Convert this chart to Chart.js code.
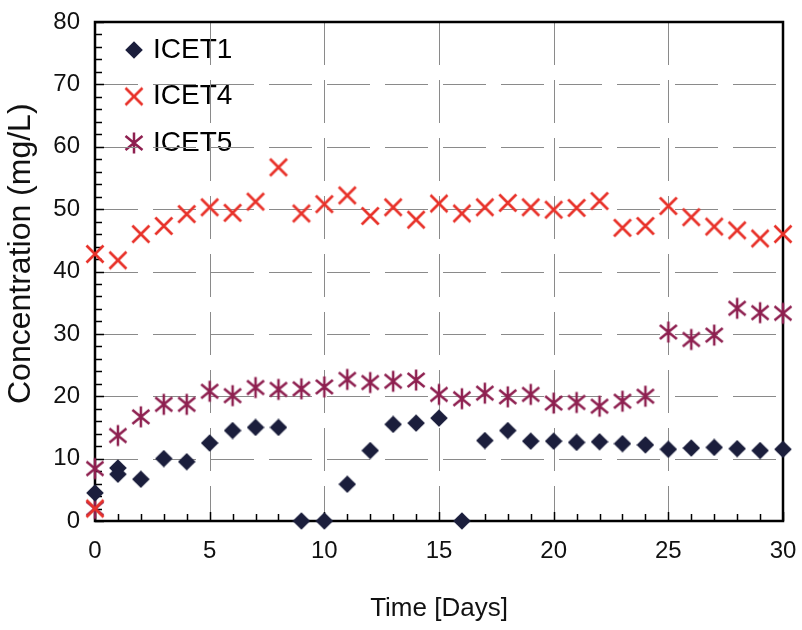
<!DOCTYPE html>
<html><head><meta charset="utf-8">
<script src="https://cdn.jsdelivr.net/npm/chart.js@4.4.1/dist/chart.umd.min.js"></script>
<style>html,body{margin:0;padding:0;background:#fff;}canvas{display:block;}</style>
</head><body>
<canvas id="c" width="802" height="630"></canvas>
<script>
// ---- data ----
const seriesNames = ['ICET1', 'ICET4', 'ICET5'];
const icet1Days = [0, 1, 1, 2, 3, 4, 5, 6, 7, 8, 9, 10, 11, 12, 13, 14, 15, 16, 17, 18, 19, 20, 21, 22, 23, 24, 25, 26, 27, 28, 29, 30];
const icet1Values = [4.5, 8.5, 7.5, 6.7, 10.0, 9.5, 12.5, 14.5, 15.0, 15.0, 0, 0, 5.9, 11.3, 15.5, 15.7, 16.5, 0, 12.9, 14.5, 12.8, 12.8, 12.6, 12.7, 12.4, 12.2, 11.5, 11.7, 11.8, 11.6, 11.3, 11.5];
const icet4Days = [0, 0, 1, 2, 3, 4, 5, 6, 7, 8, 9, 10, 11, 12, 13, 14, 15, 16, 17, 18, 19, 20, 21, 22, 23, 24, 25, 26, 27, 28, 29, 30];
const icet4Values = [42.8, 2.0, 41.8, 46.0, 47.3, 49.2, 50.3, 49.4, 51.2, 56.7, 49.3, 50.8, 52.2, 48.9, 50.3, 48.3, 50.9, 49.3, 50.3, 51.0, 50.3, 49.9, 50.2, 51.3, 47.0, 47.3, 50.5, 48.7, 47.2, 46.6, 45.3, 46.0];
const icet5Days = [0, 0, 1, 2, 3, 4, 5, 6, 7, 8, 9, 10, 11, 12, 13, 14, 15, 16, 17, 18, 19, 20, 21, 22, 23, 24, 25, 26, 27, 28, 29, 30];
const icet5Values = [8.4, 2.0, 13.7, 16.7, 18.7, 18.7, 20.8, 20.1, 21.4, 21.1, 21.2, 21.5, 22.7, 22.2, 22.4, 22.6, 20.3, 19.6, 20.5, 19.9, 20.3, 18.9, 19.0, 18.4, 19.2, 20.0, 30.3, 29.1, 29.8, 34.1, 33.4, 33.3];
const xTitle = 'Time [Days]';
const yTitle = 'Concentration (mg/L)';

// ---- marker images ----
function mk(w, h, draw) { const c = document.createElement('canvas'); c.width = w; c.height = h; draw(c.getContext('2d')); return c; }
const C1 = '#1b1e3c', C4 = '#e8322a', C5 = '#8e2050';
const diamondImg = mk(18, 18, g => { g.fillStyle = C1; g.beginPath(); g.moveTo(9, 0.2); g.lineTo(17.8, 9); g.lineTo(9, 17.8); g.lineTo(0.2, 9); g.closePath(); g.fill(); });
const crossImg = mk(22, 22, g => { g.strokeStyle = C4; g.lineWidth = 2.7; g.beginPath(); g.moveTo(2.5, 2.5); g.lineTo(19.5, 19.5); g.moveTo(19.5, 2.5); g.lineTo(2.5, 19.5); g.stroke(); });
const starImg = mk(22, 24, g => { g.strokeStyle = C5; g.lineWidth = 2.5; g.beginPath(); g.moveTo(11, 1.5); g.lineTo(11, 22.5); g.moveTo(2.5, 5); g.lineTo(19.5, 19); g.moveTo(2.5, 19); g.lineTo(19.5, 5); g.stroke(); });

const pts = (xs, ys) => xs.map((x, i) => ({ x, y: ys[i] }));
const FONT = '"Liberation Sans", Arial, sans-serif';

const framePlugin = {
  id: 'frame',
  beforeDatasetsDraw(chart) {
    const { ctx, chartArea: a, scales: { x, y } } = chart;
    ctx.save();
    // dashed grid at major ticks
    ctx.strokeStyle = '#8a8a8a';
    ctx.lineWidth = 1;
    ctx.setLineDash([43, 15]);
    ctx.beginPath();
    x.ticks.forEach(t => {
      if (t.value <= x.min || t.value >= x.max) return;
      const px = Math.round(x.getPixelForValue(t.value)) + 0.5;
      ctx.moveTo(px, a.top); ctx.lineTo(px, a.bottom);
    });
    y.ticks.forEach(t => {
      if (t.value <= y.min || t.value >= y.max) return;
      const py = Math.round(y.getPixelForValue(t.value)) + 0.5;
      ctx.moveTo(a.left, py); ctx.lineTo(a.right, py);
    });
    ctx.stroke();
    ctx.setLineDash([]);
    // inward minor/major tick marks
    ctx.strokeStyle = '#000';
    ctx.lineWidth = 1.5;
    ctx.beginPath();
    for (let d = x.min; d <= x.max; d++) {
      const px = Math.round(x.getPixelForValue(d)) + 0.5;
      const len = d % 5 === 0 ? 9 : 7;
      ctx.moveTo(px, a.bottom); ctx.lineTo(px, a.bottom - len);
    }
    for (let v = y.min; v <= y.max; v += 2) {
      const py = Math.round(y.getPixelForValue(v)) + 0.5;
      const len = v % 10 === 0 ? 9 : 7;
      ctx.moveTo(a.left, py); ctx.lineTo(a.left + len, py);
    }
    ctx.stroke();
    ctx.lineWidth = 2.5;
    ctx.strokeRect(a.left, a.top, a.right - a.left, a.bottom - a.top);
    ctx.restore();
  },
  afterLayout(chart) {
    const lg = chart.legend; const a = chart.chartArea;
    if (!lg) return;
    const w = lg.width, h = lg.height;
    lg.left = a.left + 15.5; lg.top = a.top - 4.5;
    lg.right = lg.left + w; lg.bottom = lg.top + h;
  }
};

new Chart(document.getElementById('c'), {
  type: 'scatter',
  data: {
    datasets: [
      { label: seriesNames[0], data: pts(icet1Days, icet1Values), pointStyle: diamondImg, backgroundColor: C1, borderColor: C1, pointRadius: 8, clip: false, order: 1 },
      { label: seriesNames[1], data: pts(icet4Days, icet4Values), pointStyle: crossImg, backgroundColor: C4, borderColor: C4, pointRadius: 8, clip: false, order: 2 },
      { label: seriesNames[2], data: pts(icet5Days, icet5Values), pointStyle: starImg, backgroundColor: C5, borderColor: C5, pointRadius: 8, clip: false, order: 3 }
    ]
  },
  options: {
    responsive: false,
    animation: false,
    events: [],
    layout: { padding: { left: 0, top: 22, right: 19, bottom: 0 } },
    plugins: {
      legend: {
        position: 'chartArea',
        align: 'start',
        labels: { usePointStyle: true, boxWidth: 10, boxHeight: 10, padding: 18.5, color: '#000', font: { family: FONT, size: 28 } }
      },
      tooltip: { enabled: false }
    },
    scales: {
      x: {
        type: 'linear', min: 0, max: 30,
        ticks: { stepSize: 5, color: '#111', padding: 16, font: { family: FONT, size: 24 } },
        grid: { display: false, drawTicks: false },
        border: { display: false },
        title: { display: true, text: xTitle, color: '#111', font: { family: FONT, size: 26 }, padding: { top: 0, bottom: 6 } },
        afterFit: s => { s.height = 109; s.paddingLeft = 0; s.paddingRight = 0; }
      },
      y: {
        type: 'linear', min: 0, max: 80,
        ticks: { stepSize: 10, color: '#111', padding: 15, font: { family: FONT, size: 24 } },
        grid: { display: false, drawTicks: false },
        border: { display: false },
        title: { display: true, text: '    ' + yTitle, color: '#111', font: { family: FONT, size: 32 }, padding: { top: 2, bottom: 0 } },
        afterFit: s => { s.width = 95; s.paddingTop = 0; s.paddingBottom = 0; }
      }
    }
  },
  plugins: [framePlugin]
});
</script>
</body></html>
